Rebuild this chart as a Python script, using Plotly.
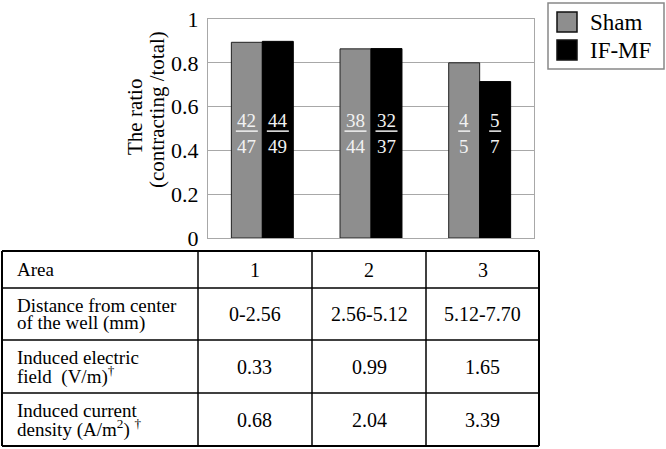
import plotly.graph_objects as go

# ---------------- data ----------------
areas = [1, 2, 3]
sham_num = [42, 38, 4]
sham_den = [47, 44, 5]
ifmf_num = [44, 32, 5]
ifmf_den = [49, 37, 7]
sham_ratio = [n / d for n, d in zip(sham_num, sham_den)]
ifmf_ratio = [n / d for n, d in zip(ifmf_num, ifmf_den)]
y_ticks = [0, 0.2, 0.4, 0.6, 0.8, 1]
y_ticklabels = ["0", "0.2", "0.4", "0.6", "0.8", "1"]

row_headers = [
    ["Area"],
    ["Distance from center", "of the well (mm)"],
    ["Induced electric", "field  (V/m)<sup>†</sup>"],
    ["Induced current", "density (A/m<sup>2</sup>) <sup>†</sup>"],
]
area_labels = ["1", "2", "3"]
distance = ["0-2.56", "2.56-5.12", "5.12-7.70"]
efield = ["0.33", "0.99", "1.65"]
current = ["0.68", "2.04", "3.39"]
table_values = [area_labels, distance, efield, current]

# ---------------- style ----------------
W, H = 666, 449
FONT = "Liberation Serif"
SHAM_COLOR = "#8e8e8e"
IFMF_COLOR = "#000000"
GRID = "#a8a8a8"


def px(x):
    return x / W


def py(y):
    return 1 - y / H


plot_l, plot_r, plot_t, plot_b = 208, 534, 19, 238

fig = go.Figure()
fig.add_trace(go.Bar(x=areas, y=sham_ratio, name="Sham",
                     marker=dict(color=SHAM_COLOR, line=dict(color="#222", width=1))))
fig.add_trace(go.Bar(x=areas, y=ifmf_ratio, name="IF-MF",
                     marker=dict(color=IFMF_COLOR, line=dict(color="#000", width=1))))

shapes = []
annotations = []


def ann(x, y, text, size, xanchor="center", yanchor="middle", **kw):
    d = dict(x=x, y=y, text=text, showarrow=False, xanchor=xanchor, yanchor=yanchor,
             font=dict(family=FONT, size=size, color=kw.pop("color", "#000")))
    d.update(kw)
    annotations.append(d)


# fraction labels inside bars
half_bar_px = 15.5
y_num, y_line, y_den = 0.535, 0.488, 0.42
for nums, dens, shift in [(sham_num, sham_den, -half_bar_px), (ifmf_num, ifmf_den, half_bar_px)]:
    for a, n, d in zip(areas, nums, dens):
        ann(a, y_num, str(n), 19, xref="x", yref="y", xshift=shift, color="#f2f2f2")
        ann(a, y_den, str(d), 19, xref="x", yref="y", xshift=shift, color="#f2f2f2")
        hw = 5 * len(str(n)) + 1
        shapes.append(dict(type="line", xref="x", yref="y", xsizemode="pixel", xanchor=a,
                           x0=shift - hw, x1=shift + hw, y0=y_line, y1=y_line,
                           line=dict(color="#f2f2f2", width=1.5)))

# y-axis title (two lines)
ann(px(135), py(117), "The ratio", 21, xref="paper", yref="paper", textangle=-90)
ann(px(157), py(110), "(contracting /total)", 21, xref="paper", yref="paper", textangle=-90)

# custom legend
shapes.append(dict(type="rect", xref="paper", yref="paper", x0=px(548), x1=px(664), y0=py(3), y1=py(69),
                   line=dict(color="#888", width=1.5), fillcolor="white", layer="below"))
for name, color, yc in [("Sham", SHAM_COLOR, 22), ("IF-MF", IFMF_COLOR, 50)]:
    shapes.append(dict(type="rect", xref="paper", yref="paper", x0=px(557), x1=px(577),
                       y0=py(yc - 10), y1=py(yc + 10), line=dict(color="#111", width=1.5), fillcolor=color))
    ann(px(588), py(yc), name, 23, xanchor="left", xref="paper", yref="paper")

# table
col_edges = [2, 198, 312, 426, 539]
row_edges = [251, 288, 340, 393, 446]
for i, x in enumerate(col_edges):
    w = 2 if i in (0, len(col_edges) - 1) else 1.5
    shapes.append(dict(type="line", xref="paper", yref="paper", x0=px(x), x1=px(x),
                       y0=py(row_edges[0]), y1=py(row_edges[-1]), line=dict(color="#000", width=w)))
for i, y in enumerate(row_edges):
    w = 2 if i in (0, len(row_edges) - 1) else 1.5
    shapes.append(dict(type="line", xref="paper", yref="paper", x0=px(col_edges[0]), x1=px(col_edges[-1]),
                       y0=py(y), y1=py(y), line=dict(color="#000", width=w)))

line_pitch = 18
for r, (hdr, vals) in enumerate(zip(row_headers, table_values)):
    yc = (row_edges[r] + row_edges[r + 1]) / 2
    nlines = len(hdr)
    for k, t in enumerate(hdr):
        yy = yc + (k - (nlines - 1) / 2) * line_pitch
        ann(px(col_edges[0] + 13), py(yy), t, 19, xanchor="left", xref="paper", yref="paper")
    for c, v in enumerate(vals):
        xc = (col_edges[c + 1] + col_edges[c + 2]) / 2
        ann(px(xc), py(yc), v, 20, xref="paper", yref="paper")

fig.update_layout(
    width=W, height=H,
    margin=dict(l=0, r=0, t=0, b=0, autoexpand=False),
    paper_bgcolor="white", plot_bgcolor="white",
    font=dict(family=FONT, color="#000"),
    showlegend=False,
    barmode="group", bargap=0.43, bargroupgap=0,
    xaxis=dict(domain=[px(plot_l), px(plot_r)], range=[0.5, 3.5], showticklabels=False,
               showgrid=False, zeroline=False, showline=True, mirror=True, linecolor=GRID, linewidth=1),
    yaxis=dict(domain=[py(plot_b), py(plot_t)], range=[0, 1], tickvals=y_ticks, ticktext=y_ticklabels,
               showgrid=True, gridcolor=GRID, gridwidth=1, zeroline=False, showline=True, mirror=True,
               linecolor=GRID, linewidth=1, ticks="", ticklabelstandoff=4,
               tickfont=dict(family=FONT, size=22, color="#000")),
    shapes=shapes,
    annotations=annotations,
)

fig.write_html("out.html", config={"displayModeBar": False},
               post_script="document.body.style.margin='0px';")
